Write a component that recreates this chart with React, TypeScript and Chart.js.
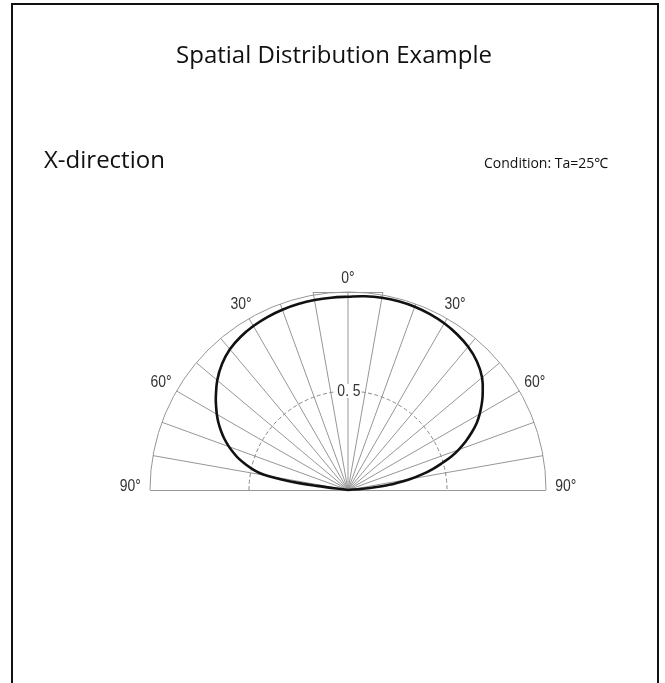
import { useEffect, useRef } from 'react';
import { Chart, registerables } from 'chart.js';

Chart.register(...registerables);

// Polar radiation pattern: angle in degrees from the
// vertical (negative = left side), relative intensity 0..1
const ANGLES_DEG = [
  -83, -82.5, -82, -81, -80, -79, -78, -76, -74, -72, -70, -67.5, -65, -62.5, -60, -57.5, -55, -50, -45, -40, -35, -30, -25, -20, -15, -10, -5,
  0, 5, 10, 15, 20, 25, 30, 35, 40, 45, 50, 55, 57.5, 60, 62.5, 65, 67.5, 70, 72, 74, 76, 78, 80, 82, 83, 84, 85, 86,
];
const INTENSITY = [
  0, 0.16, 0.25, 0.34, 0.41, 0.458, 0.487, 0.532, 0.574, 0.608, 0.64, 0.676, 0.708, 0.738, 0.765, 0.79, 0.815, 0.862, 0.9, 0.928, 0.945, 0.956, 0.964, 0.969, 0.972, 0.974, 0.975,
  0.976, 0.982, 0.986, 0.987, 0.985, 0.98, 0.972, 0.96, 0.944, 0.92, 0.884, 0.83, 0.8, 0.768, 0.733, 0.69, 0.644, 0.594, 0.549, 0.495, 0.443, 0.385, 0.32, 0.245, 0.2, 0.145, 0.075, 0,
];

const SPOKE_ANGLES = [-80, -70, -60, -50, -40, -30, -20, -10, 0, 10, 20, 30, 40, 50, 60, 70, 80];
const LABEL_ANGLES = [-90, -60, -30, 0, 30, 60, 90];
const ANGLE_LABELS = ['90°', '60°', '30°', '0°', '30°', '60°', '90°'];
const RADIAL_TICKS = [0.5];
const RADIAL_TICK_LABELS = ['0. 5'];

const TITLE = 'Spatial Distribution Example';
const SUBTITLE = 'X-direction';
const CONDITION = 'Condition: Ta=25℃';

const rad = (d: number) => (d * Math.PI) / 180;

const polarGrid = {
  id: 'polarGrid',
  beforeDatasetsDraw(chart: any) {
    const { ctx, scales } = chart;
    const xs = scales.x;
    const ys = scales.y;
    const cx = xs.getPixelForValue(0);
    const cy = ys.getPixelForValue(0);
    const R = xs.getPixelForValue(1) - cx;
    ctx.save();
    ctx.strokeStyle = '#969696';
    ctx.lineWidth = 1;
    // spokes every 10°
    SPOKE_ANGLES.forEach((a) => {
      const t = rad(a);
      const len = Math.abs(a) === 10 ? 1 / Math.cos(t) : 1;
      ctx.beginPath();
      ctx.moveTo(cx, cy);
      ctx.lineTo(xs.getPixelForValue(len * Math.sin(t)), ys.getPixelForValue(len * Math.cos(t)));
      ctx.stroke();
    });
    // baseline (±90°)
    ctx.beginPath();
    ctx.moveTo(xs.getPixelForValue(-1), cy + 0.5);
    ctx.lineTo(xs.getPixelForValue(1), cy + 0.5);
    ctx.stroke();
    // outer arc (1.0)
    ctx.beginPath();
    ctx.arc(cx, cy, R, Math.PI, 2 * Math.PI);
    ctx.stroke();
    // small flat top between ±10°
    ctx.beginPath();
    ctx.moveTo(xs.getPixelForValue(-Math.tan(rad(10))), ys.getPixelForValue(1) + 0.5);
    ctx.lineTo(xs.getPixelForValue(Math.tan(rad(10))), ys.getPixelForValue(1) + 0.5);
    ctx.stroke();
    // inner dashed arcs
    ctx.strokeStyle = '#888';
    ctx.setLineDash([4, 2.5]);
    RADIAL_TICKS.forEach((r) => {
      const rp = xs.getPixelForValue(r) - cx;
      ctx.beginPath();
      ctx.arc(cx, cy, rp, Math.PI, 2 * Math.PI);
      ctx.stroke();
    });
    ctx.restore();
  },
  afterDatasetsDraw(chart: any) {
    const { ctx, scales } = chart;
    const xs = scales.x;
    const ys = scales.y;
    const cx = xs.getPixelForValue(0);
    const cy = ys.getPixelForValue(0);
    const sx = 0.82;
    ctx.save();
    ctx.font = '17px "Liberation Sans", Arial, sans-serif';
    ctx.textAlign = 'center';
    ctx.textBaseline = 'middle';
    const drawText = (txt: string, px: number, py: number) => {
      ctx.save();
      ctx.translate(px, py);
      ctx.scale(sx, 1);
      ctx.fillText(txt, 0, 0);
      ctx.restore();
    };
    ctx.fillStyle = '#333';
    LABEL_ANGLES.forEach((a, i) => {
      const t = rad(a);
      const rl = 1.07 + 0.03 * (Math.abs(a) / 90);
      const px = xs.getPixelForValue(rl * Math.sin(t));
      const py = Math.abs(a) === 90 ? cy - 4 : ys.getPixelForValue(rl * Math.cos(t));
      drawText(ANGLE_LABELS[i], px, py);
    });
    RADIAL_TICKS.forEach((r, i) => {
      const py = ys.getPixelForValue(r);
      const w = ctx.measureText(RADIAL_TICK_LABELS[i]).width * sx;
      ctx.fillStyle = '#fff';
      ctx.fillRect(cx - w / 2 - 1, py - 7, w + 2, 14);
      ctx.fillStyle = '#333';
      drawText(RADIAL_TICK_LABELS[i], cx + 1, py);
    });
    ctx.restore();
  },
};

export default function App() {
  const ref = useRef<HTMLCanvasElement>(null);

  useEffect(() => {
    if (!ref.current) return;
    const points = ANGLES_DEG.map((a, i) => ({
      x: INTENSITY[i] * Math.sin(rad(a)),
      y: INTENSITY[i] * Math.cos(rad(a)),
    }));
    const chart = new Chart(ref.current, {
      type: 'scatter',
      data: {
        datasets: [
          {
            data: points,
            showLine: true,
            borderColor: '#111',
            borderWidth: 2.6,
            pointRadius: 0,
            tension: 0.4,
            fill: false,
            clip: false,
          } as any,
        ],
      },
      options: {
        animation: false,
        responsive: false,
        maintainAspectRatio: false,
        layout: { padding: { left: 150, right: 119, top: 292, bottom: 193 } },
        plugins: { legend: { display: false }, tooltip: { enabled: false }, title: { display: false } },
        scales: {
          x: { type: 'linear', min: -1, max: 1, display: false },
          y: { type: 'linear', min: 0, max: 1, display: false },
        },
      },
      plugins: [polarGrid],
    });
    return () => chart.destroy();
  }, []);

  const font = '"Open Sans", "Noto Sans", sans-serif';
  return (
    <div style={{ position: 'fixed', left: 0, top: 0, width: 665, height: 683, background: '#fff', overflow: 'hidden' }}>
      <canvas ref={ref} width={665} height={683} style={{ position: 'absolute', left: 0, top: 0, width: 665, height: 683 }} />
      <div
        style={{
          position: 'absolute',
          left: 11,
          top: 3,
          width: 648,
          height: 720,
          border: '2px solid #111',
          borderBottom: 'none',
          boxSizing: 'border-box',
          pointerEvents: 'none',
        }}
      />
      <div style={{ position: 'absolute', left: 0, width: 668, top: 39, textAlign: 'center', fontFamily: font, fontSize: 24, lineHeight: '30px', color: '#111' }}>
        {TITLE}
      </div>
      <div style={{ position: 'absolute', left: 44, top: 144, fontFamily: font, fontSize: 24, lineHeight: '30px', color: '#111' }}>
        {SUBTITLE}
      </div>
      <div style={{ position: 'absolute', left: 484, top: 153, fontFamily: font, fontSize: 14, lineHeight: '20px', color: '#111' }}>
        {CONDITION}
      </div>
    </div>
  );
}
